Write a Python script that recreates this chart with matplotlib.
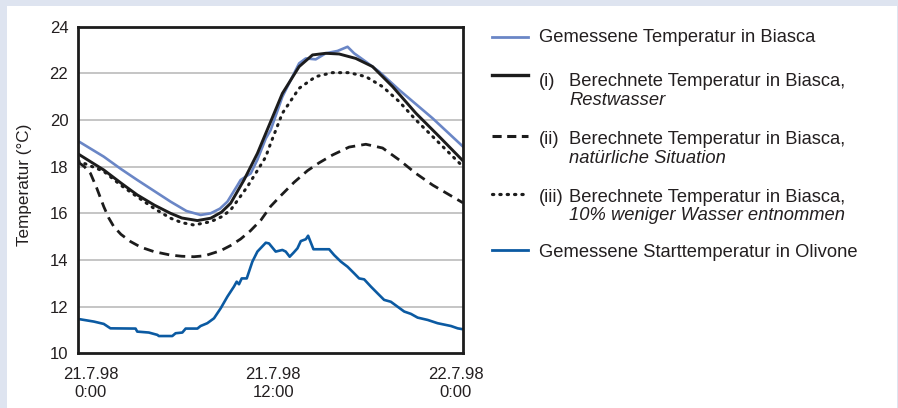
import matplotlib
matplotlib.use("Agg")
import matplotlib.pyplot as plt
from matplotlib.lines import Line2D
from matplotlib.patches import Rectangle

# time axis in hours after 21.7.98 0:00
biasca_t = [-0.82, 0.87, 2.0, 3.07, 4.2, 5.26, 6.3, 7.23, 7.89, 8.5, 8.99, 9.65, 9.86,
            10.52, 10.96, 11.51, 11.83, 12.6, 13.7, 14.14, 14.79, 15.45, 16.22, 16.88,
            17.31, 18.08, 18.96, 20.27, 22.47, 24.46]
biasca_v = [19.1, 18.43, 17.9, 17.43, 16.95, 16.5, 16.1, 15.93, 16.0, 16.2, 16.5, 17.2, 17.43,
            17.71, 18.3, 19.21, 19.57, 21.0, 22.43, 22.64, 22.6, 22.86, 22.96, 23.14,
            22.86, 22.5, 22.07, 21.29, 20.07, 18.86]

restwasser_t = [-0.82, 0.87, 2.0, 3.07, 4.2, 5.26, 6.0, 7.02, 7.89, 8.6, 9.2, 10.08, 10.96,
                11.51, 11.83, 12.6, 13.7, 14.58, 15.45, 16.33, 17.42, 18.52, 19.84, 21.37,
                22.9, 24.46]
restwasser_v = [18.55, 17.86, 17.3, 16.79, 16.35, 16.0, 15.8, 15.69, 15.79, 16.05, 16.43, 17.43,
                18.57, 19.43, 19.93, 21.14, 22.29, 22.79, 22.86, 22.83, 22.64, 22.29, 21.43,
                20.29, 19.29, 18.25]

natuerlich_t = [-0.82, -0.4, 0.0, 0.4, 0.87, 1.2, 1.53, 2.0, 2.63, 3.3, 4.16, 5.26, 6.0,
                6.79, 7.5, 8.55, 9.2, 9.86, 10.5, 11.2, 11.83, 12.5, 13.37, 14.25, 15.0, 15.89,
                16.98, 18.08, 19.18, 20.27, 21.37, 22.47, 24.46]
natuerlich_v = [18.2, 18.0, 17.71, 17.1, 16.29, 15.8, 15.43, 15.1, 14.79, 14.55, 14.36, 14.21,
                14.16, 14.14, 14.18, 14.4, 14.62, 14.9, 15.25, 15.72, 16.3, 16.76, 17.33, 17.83,
                18.16, 18.5, 18.84, 18.96, 18.8, 18.29, 17.71, 17.21, 16.45]

weniger_t = [-0.82, 0.87, 2.0, 3.07, 4.2, 5.26, 6.0, 6.79, 7.89, 8.6, 9.2, 10.3, 11.39, 11.51,
             11.83, 12.6, 13.7, 14.79, 15.89, 16.98, 18.08, 19.18, 20.27, 21.37, 22.47, 24.46]
weniger_v = [18.25, 17.8, 17.2, 16.71, 16.2, 15.79, 15.6, 15.5, 15.64, 15.85, 16.14, 17.14, 18.29,
             18.43, 19.0, 20.29, 21.36, 21.86, 22.03, 22.03, 21.86, 21.43, 20.79, 20.0, 19.29, 18.0]

olivone_t = [-0.82, -0.7, 0.22, 0.87, 1.31, 2.96, 3.07, 3.83, 4.39, 4.49, 5.37, 5.59, 6.03,
             6.25, 7.02, 7.23, 7.67, 8.11, 8.55, 8.99, 9.42, 9.6, 9.75, 9.93, 10.26, 10.63,
             10.96, 11.51, 11.72, 12.16, 12.6, 12.82, 13.08, 13.33, 13.59, 13.81, 14.14, 14.29,
             14.64, 15.67, 16.0, 16.44, 16.88, 17.31, 17.64, 17.97, 18.41, 18.85, 19.28, 19.72,
             20.16, 20.6, 21.04, 21.48, 22.14, 22.79, 23.67, 24.11, 24.46]
olivone_v = [11.46, 11.46, 11.36, 11.26, 11.07, 11.06, 10.93, 10.89, 10.79, 10.74, 10.74, 10.86,
             10.89, 11.06, 11.06, 11.17, 11.29, 11.5, 11.93, 12.43, 12.86, 13.07, 12.96, 13.21,
             13.21, 13.93, 14.36, 14.74, 14.71, 14.36, 14.43, 14.36, 14.14, 14.31, 14.5, 14.81,
             14.89, 15.04, 14.46, 14.46, 14.21, 13.93, 13.71, 13.43, 13.21, 13.17, 12.86, 12.57,
             12.29, 12.21, 12.0, 11.79, 11.69, 11.53, 11.43, 11.29, 11.17, 11.07, 11.03]

x_ticks = [0, 12, 24]
x_ticklabels = ["21.7.98\n0:00", "21.7.98\n12:00", "22.7.98\n0:00"]
y_ticks = [10, 12, 14, 16, 18, 20, 22, 24]

BG = "#dee4f0"
LIGHT = "#6a86c6"
DARK = "#0b5aa2"
BLACK = "#1c1c1c"
TXT = "#231f20"

plt.rcParams["font.family"] = ["Liberation Sans", "DejaVu Sans"]

W, H = 898, 408
fig = plt.figure(figsize=(W / 100, H / 100), dpi=100, facecolor=BG)
panel = Rectangle((7 / W, 0), 890 / W, (H - 6) / H, transform=fig.transFigure,
                  facecolor="white", edgecolor="none", zorder=-10)
fig.add_artist(panel)

ax = fig.add_axes([78 / W, 1 - 353.3 / H, 385 / W, 326.6 / H])
ax.set_zorder(1)
ax.set_facecolor("white")
ax.set_xlim(-0.82, 24.46)
ax.set_ylim(10, 24)
for y in y_ticks[1:-1]:
    ax.axhline(y, color="#b5b5b5", lw=1.1, zorder=1)

ax.plot(olivone_t, olivone_v, color=DARK, lw=1.9, zorder=3)
ax.plot(natuerlich_t, natuerlich_v, color=BLACK, lw=2.0, dashes=(3.6, 2.2), zorder=3)
ax.plot(weniger_t, weniger_v, color=BLACK, lw=2.2, dashes=(0.4, 2.0),
        dash_capstyle="round", zorder=3)
ax.plot(biasca_t, biasca_v, color=LIGHT, lw=1.9, zorder=4)
ax.plot(restwasser_t, restwasser_v, color=BLACK, lw=2.1, zorder=5)

ax.set_xticks(x_ticks)
ax.set_xticklabels(x_ticklabels, fontsize=12, color=TXT, linespacing=1.2)
ax.set_yticks(y_ticks)
ax.set_yticklabels([str(v) for v in y_ticks], fontsize=12, color=TXT)
ax.tick_params(axis="both", length=0)
ax.tick_params(axis="y", pad=7)
ax.tick_params(axis="x", pad=10)
for s in ax.spines.values():
    s.set_linewidth(2.0)
    s.set_color(BLACK)
    s.set_zorder(6)

fig.text(25 / W, 1 - 185 / H, "Temperatur (°C)", rotation=90, ha="center", va="center",
         fontsize=12.3, color=TXT)

# legend, drawn by hand to get the two-line entries
def fy(py):
    return 1 - py / H

legend_rows = [
    (36.5, dict(color=LIGHT, lw=2.0)),
    (75.0, dict(color=BLACK, lw=2.4)),
    (136.0, dict(color=BLACK, lw=2.2, dashes=(3.0, 1.8))),
    (194.0, dict(color=BLACK, lw=2.3, dashes=(0.4, 1.9), dash_capstyle="round")),
    (249.5, dict(color=DARK, lw=2.0)),
]
for py, style in legend_rows:
    fig.add_artist(Line2D([492 / W, 528 / W], [fy(py), fy(py)], transform=fig.transFigure,
                          **style))

fs = 13.2
fig.text(539 / W, fy(41.7), "Gemessene Temperatur in Biasca", fontsize=fs, color=TXT, va="baseline")
for num, y1, y2, note in [("(i)", 86.0, 105.0, "Restwasser"),
                          ("(ii)", 144.0, 163.3, "natürliche Situation"),
                          ("(iii)", 201.7, 220.0, "10% weniger Wasser entnommen")]:
    fig.text(539 / W, fy(y1), num, fontsize=fs, color=TXT, va="baseline")
    fig.text(569 / W, fy(y1), "Berechnete Temperatur in Biasca,", fontsize=fs, color=TXT,
             va="baseline")
    fig.text(569 / W, fy(y2), note, fontsize=fs, color=TXT, va="baseline", style="italic")
fig.text(539 / W, fy(256.7), "Gemessene Starttemperatur in Olivone", fontsize=fs, color=TXT,
         va="baseline")

fig.savefig("out.png", dpi=100, facecolor=BG)
